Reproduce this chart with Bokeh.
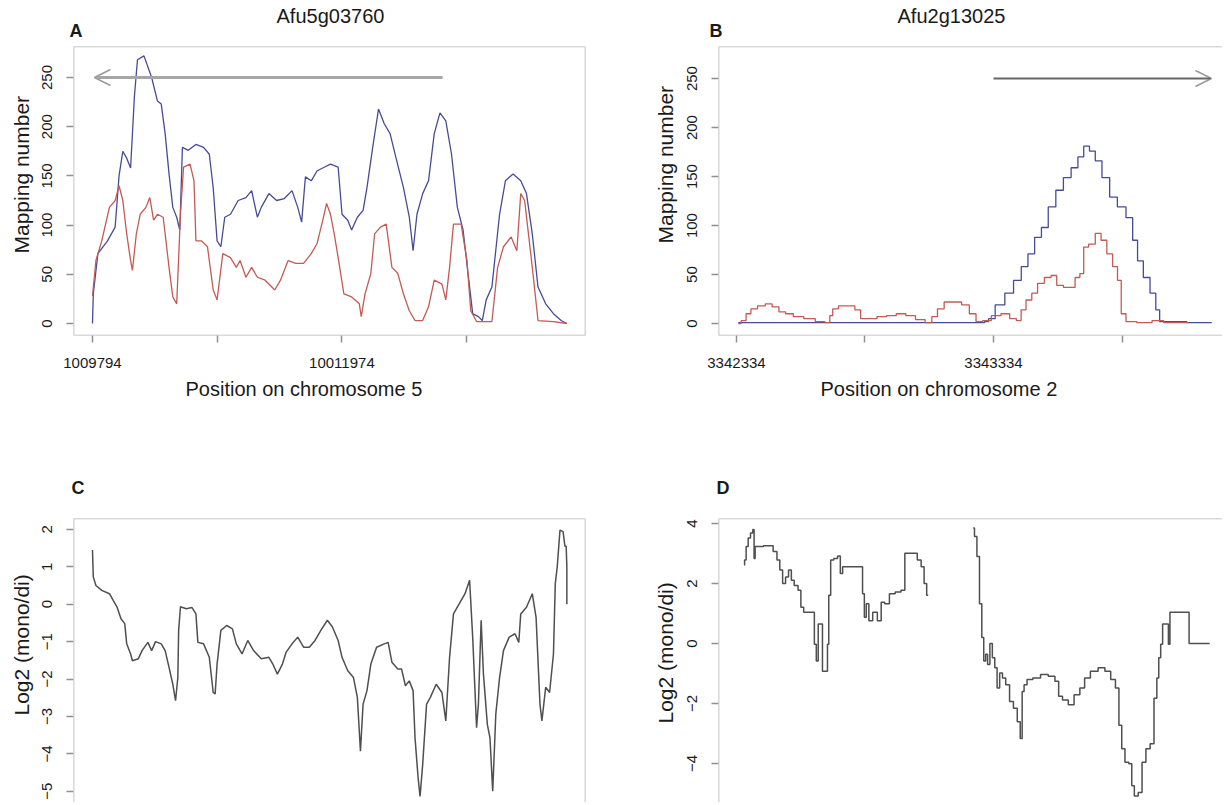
from bokeh.plotting import figure
from bokeh.layouts import column, row
from bokeh.models import Range1d, FixedTicker, Arrow, OpenHead, Span, Title
from bokeh.embed import file_html
from bokeh.resources import INLINE

FONT = "Liberation Sans"
INK = "#1a1a1a"
FRAME = "#b4b4b4"
BLUE = "#464b98"
RED = "#c45a55"
GREY = "#4f4f4f"
NAN = float("nan")

# ---- panel A: Afu5g03760 (positions = bp after the first tick) ----
a_ticks = [0, 1090, 2180, 3270]
a_tick_labels = {0: "1009794", 1090: "", 2180: "10011974", 3270: ""}
a_blue_x = [0, 7, 47, 131, 198, 232, 265, 299, 333, 366, 393, 450, 517, 568, 601,
            635, 669, 702, 736, 763, 786, 837, 904, 971, 1021, 1055, 1089, 1122, 1156,
            1206, 1273, 1341, 1391, 1441, 1475, 1542, 1609, 1677, 1744, 1794, 1828,
            1861, 1912, 1962, 2029, 2080, 2147, 2181, 2231, 2265, 2315, 2365, 2399,
            2449, 2500, 2550, 2601, 2651, 2718, 2769, 2802, 2836, 2886, 2937, 2987,
            3037, 3088, 3138, 3189, 3239, 3289, 3323, 3373, 3407, 3441, 3491, 3558,
            3609, 3676, 3743, 3793, 3844, 3894, 3961, 4029, 4096, 4146]
a_blue_y = [0, 30, 71, 84, 98, 150, 175, 168, 158, 230, 268, 272, 250, 226, 223,
            193, 152, 118, 108, 95, 179, 176, 182, 179, 172, 138, 84, 78, 108,
            111, 125, 128, 135, 108, 118, 132, 125, 127, 135, 118, 103,
            149, 145, 155, 159, 162, 159, 111, 105, 95, 108, 115, 138,
            179, 218, 203, 193, 169, 138, 108, 74, 111, 132, 145, 193,
            214, 206, 172, 118, 95, 44, 10, 7, 3, 24, 37, 111,
            145, 152, 145, 132, 91, 37, 20, 10, 3, 0]
a_red_x = [0, 30, 81, 148, 198, 232, 265, 299, 333, 349, 383, 417, 467, 501, 534,
           568, 618, 669, 702, 736, 769, 796, 853, 887, 904, 954, 1005, 1055, 1089,
           1139, 1206, 1257, 1290, 1341, 1391, 1441, 1509, 1593, 1643, 1710, 1777,
           1845, 1912, 1962, 2013, 2046, 2080, 2113, 2147, 2197, 2265, 2332, 2349,
           2382, 2433, 2466, 2517, 2567, 2617, 2668, 2718, 2769, 2819, 2886, 2937,
           2987, 3054, 3088, 3121, 3155, 3222, 3273, 3306, 3357, 3491, 3541, 3592,
           3659, 3709, 3743, 3777, 3844, 3894, 4029, 4146]
a_red_y = [28, 64, 84, 118, 125, 140, 125, 91, 64, 54, 91, 111, 118, 128, 105,
           111, 108, 57, 27, 20, 111, 159, 162, 145, 84, 84, 78, 34, 24,
           71, 67, 57, 64, 47, 57, 47, 44, 34, 44, 64, 61,
           61, 71, 81, 105, 122, 111, 91, 67, 30, 27, 20, 7,
           30, 51, 91, 98, 101, 57, 51, 30, 13, 3, 3, 17,
           44, 40, 24, 57, 101, 101, 64, 13, 2, 2, 57, 78,
           88, 74, 132, 125, 57, 3, 2, 0]
a_gene = [3060, 17]          # arrow drawn from, to (bp)
gene_level = 250

# ---- panel B: Afu2g13025 ----
b_ticks = [0, 500, 1000, 1500]
b_tick_labels = {0: "3342334", 500: "", 1000: "3343334", 1500: ""}
b_blue_x = [7, 958, 973, 988, 1025, 1063, 1093, 1123, 1145, 1175, 1198, 1228, 1257,
            1287, 1317, 1340, 1362, 1385, 1407, 1437, 1467, 1497, 1534, 1549, 1572,
            1594, 1624, 1639, 1654, 1849]
b_blue_y = [1, 1, 2, 5, 19, 31, 44, 58, 71, 88, 98, 119, 136,
            149, 159, 170, 181, 176, 166, 149, 129, 119, 108, 85, 64,
            47, 31, 14, 2, 1]
b_red_x = [7, 30, 45, 67, 97, 127, 150, 180, 202, 240, 284, 329, 359, 367, 382,
           412, 449, 472, 494, 524, 569, 599, 644, 674, 719, 749, 771, 793, 823,
           861, 891, 921, 943, 973, 1010, 1048, 1078, 1100, 1115, 1138, 1160, 1183,
           1213, 1235, 1257, 1287, 1310, 1325, 1347, 1355, 1385, 1407, 1430, 1452,
           1475, 1490, 1504, 1527, 1587, 1647, 1677, 1759]
b_red_y = [0, 3, 10, 15, 18, 20, 17, 12, 10, 7, 5, 2, 1, 8, 15,
           18, 18, 14, 5, 5, 7, 8, 10, 8, 4, 1, 7, 15, 22,
           22, 19, 10, 2, 3, 8, 10, 5, 3, 14, 24, 31, 41,
           47, 49, 39, 37, 37, 47, 51, 78, 81, 92, 85, 71,
           58, 44, 10, 2, 1, 3, 1, 1]
b_gene = [1000, 1848]

# ---- panel C: log2(mono/di) along Afu5g03760 ----
c_ticks = [2, 1, 0, -1, -2, -3, -4, -5]
c_x = [0, 7, 30, 81, 148, 181, 215, 249, 282, 299, 333, 349, 400, 433, 484, 517,
       551, 601, 635, 669, 702, 726, 746, 753, 769, 820, 870, 904, 921, 971, 1021,
       1055, 1072, 1089, 1122, 1173, 1223, 1257, 1307, 1357, 1408, 1475, 1542, 1576,
       1616, 1660, 1693, 1744, 1794, 1845, 1895, 1945, 1996, 2053, 2097, 2147, 2181,
       2231, 2281, 2315, 2342, 2365, 2399, 2433, 2483, 2550, 2584, 2617, 2668, 2701,
       2735, 2769, 2802, 2819, 2846, 2863, 2886, 2920, 2953, 3004, 3054, 3088, 3121,
       3155, 3205, 3256, 3296, 3323, 3357, 3373, 3397, 3417, 3451, 3474, 3498, 3525,
       3558, 3592, 3642, 3693, 3726, 3743, 3793, 3844, 3877, 3911, 3928, 3961, 3995,
       4029, 4045, 4062, 4086, 4113, 4129, 4140, 4146, 4146]
c_y = [1.45, 0.73, 0.5, 0.37, 0.28, 0.1, -0.08, -0.39, -0.52, -1.06, -1.33, -1.51,
       -1.46, -1.24, -1.02, -1.24, -1.0, -1.06, -1.24, -1.69, -2.14, -2.58, -1.96,
       -0.7, -0.07, -0.12, -0.09, -0.26, -1.02, -1.06, -1.42, -2.36, -2.4, -1.6,
       -0.7, -0.57, -0.66, -1.06, -1.33, -0.97, -1.24, -1.46, -1.42, -1.6, -1.87,
       -1.6, -1.28, -1.06, -0.88, -1.15, -1.15, -0.97, -0.7, -0.43, -0.61, -0.97,
       -1.42, -1.78, -1.96, -2.49, -3.93, -2.67, -2.31, -1.6, -1.15, -1.06, -1.02,
       -1.55, -1.73, -1.73, -2.18, -2.05, -2.31, -3.57, -4.64, -5.14, -4.28, -2.67,
       -2.49, -2.14, -2.36, -3.12, -1.42, -0.26, 0.01, 0.28, 0.64, -0.88, -3.3,
       -2.67, -0.43, -1.87, -3.21, -3.57, -5.0, -2.94, -1.96, -1.24, -0.88, -0.79,
       -1.02, -0.26, -0.08, 0.28, -0.35, -2.67, -3.12, -2.22, -2.36, -1.33, 0.55,
       1.0, 1.98, 1.94, 1.55, 1.55, 1.0, 0.0]

# ---- panel D: log2(mono/di) along Afu2g13025 (gap where undefined) ----
d_ticks = [4, 2, 0, -2, -4]
d_x = [30, 33, 42, 49, 60, 67, 70, 75, 135, 150, 165, 172, 187, 195, 210, 217, 232,
       247, 254, 269, 299, 307, 314, 322, 332, 337, 352, 356, 362, 371, 386, 401,
       407, 419, 487, 494, 501, 509, 521, 539, 557, 569, 584, 606, 629, 651, 659,
       696, 711, 726, 734, 746, NAN,
       921, 931, 940, 951, 958, 966, 973, 981, 991, 1000, 1010, 1018, 1030, 1040,
       1055, 1070, 1085, 1100, 1108, 1115, 1123, 1138, 1168, 1198, 1228, 1250, 1257,
       1280, 1302, 1325, 1347, 1362, 1392, 1422, 1445, 1467, 1482, 1494, 1504, 1519,
       1534, 1542, 1554, 1572, 1584, 1602, 1617, 1632, 1639, 1647, 1654, 1662, 1677,
       1684, 1689, 1759, 1763, 1841]
d_y = [2.62, 2.79, 3.24, 3.52, 3.69, 3.8, 2.84, 3.24, 3.26, 3.07, 2.79, 2.45, 2.0,
       2.22, 2.45, 2.11, 1.94, 1.78, 1.21, 1.04, 1.04, -0.02, -0.58, 0.65, 0.65,
       -0.92, -0.92, -0.02, 1.61, 2.79, 2.84, 2.92, 2.34, 2.56, 2.56, 1.66, 0.88,
       1.33, 0.76, 1.04, 0.76, 1.38, 1.33, 1.66, 1.72, 1.78, 3.01, 3.01, 2.79, 2.56,
       2.0, 1.61, NAN,
       3.85, 3.57, 2.9, 1.33, 0.2, -0.58, -0.36, -0.7, 0.0, -0.47, -0.81, -1.48,
       -0.98, -1.15, -1.37, -1.93, -2.16, -2.61, -3.17, -1.6, -1.37, -1.2, -1.15,
       -1.03, -1.09, -1.26, -1.76, -1.88, -2.04, -1.71, -1.48, -1.15, -0.92, -0.81,
       -0.92, -1.2, -1.48, -2.72, -3.51, -3.96, -4.01, -4.74, -5.08, -4.97, -3.96,
       -3.51, -3.34, -1.82, -1.15, -0.47, -0.02, 0.65, 0.65, -0.02, 1.04, 1.04, 0.0,
       0.0]

mapping_ticks = [0, 50, 100, 150, 200, 250]


def minus(v):
    return str(v).replace("-", "\u2212")


def make_fig(width, height, border, x_rng, y_rng, y_ticks, x_ticks=None, x_labels=None):
    left, right, top, bottom = border
    p = figure(width=width, height=height, title=None,
               x_range=Range1d(*x_rng), y_range=Range1d(*y_rng),
               x_axis_location="below" if x_ticks else None,
               output_backend="svg", toolbar_location=None,
               min_border_left=left, min_border_right=right,
               min_border_top=top, min_border_bottom=bottom,
               background_fill_color="white", border_fill_color="white")
    p.grid.grid_line_color = None
    p.outline_line_color = None
    p.yaxis.ticker = FixedTicker(ticks=y_ticks)
    p.yaxis.major_label_overrides = {t: minus(t) for t in y_ticks}
    p.yaxis.major_label_orientation = "vertical"
    if x_ticks:
        p.xaxis.ticker = FixedTicker(ticks=x_ticks)
        p.xaxis.major_label_overrides = x_labels
    for ax in p.axis:
        ax.axis_line_color = None
        ax.major_tick_line_color = "#8f8f8f"
        ax.major_tick_line_width = 1.5
        ax.major_tick_in = 0
        ax.major_tick_out = 7
        ax.minor_tick_line_color = None
        ax.major_label_text_font = FONT
        ax.major_label_text_font_size = "15px"
        ax.major_label_text_color = INK
    p.yaxis.major_label_standoff = 14
    if x_ticks:
        p.xaxis.major_label_standoff = 15
    return p


def frame_sides(p, sides):
    locs = {"left": (p.x_range.start, "height"), "right": (p.x_range.end, "height"),
            "bottom": (p.y_range.start, "width"), "top": (p.y_range.end, "width")}
    for s in sides:
        loc, dim = locs[s]
        p.add_layout(Span(location=loc, dimension=dim, line_color=FRAME, line_width=1.6))


def title(p, side, text, size, offset, standoff, bold=False):
    p.add_layout(Title(text=text, align="left", offset=offset, standoff=standoff,
                       text_font=FONT, text_font_size=size, text_color=INK,
                       text_font_style="bold" if bold else "normal"), side)


# panel A
pa = make_fig(616, 452, (73, 31, 46, 117), (-166, 4309), (-12.2, 281.5),
              mapping_ticks, a_ticks, a_tick_labels)
frame_sides(pa, ["left", "right", "top", "bottom"])
pa.line(a_blue_x, a_blue_y, line_color=BLUE, line_width=1.3)
pa.line(a_red_x, a_red_y, line_color=RED, line_width=1.3)
pa.add_layout(Arrow(end=OpenHead(size=16, line_color="#9a9a9a", line_width=1.5),
                    x_start=a_gene[0], y_start=gene_level, x_end=a_gene[1], y_end=gene_level,
                    line_color="#a6a6a6", line_width=3))
title(pa, "above", "A", "18px", -4, 11, bold=True)
title(pa, "above", "Afu5g03760", "20px", 203, -27)
title(pa, "left", "Mapping number", "21px", 82, 14)
title(pa, "below", "Position on chromosome 5", "20px", 112, 11)

# panel B (stepped coverage)
pb = make_fig(606, 452, (102, 0, 46, 117), (-70, 1891), (-12.2, 282.7),
              mapping_ticks, b_ticks, b_tick_labels)
frame_sides(pb, ["left", "top", "bottom"])
pb.step(b_blue_x, b_blue_y, mode="center", line_color=BLUE, line_width=1.3)
pb.step(b_red_x, b_red_y, mode="center", line_color=RED, line_width=1.3)
pb.add_layout(Arrow(end=OpenHead(size=16, line_color="#9a9a9a", line_width=1.5),
                    x_start=b_gene[0], y_start=gene_level, x_end=b_gene[1], y_end=gene_level,
                    line_color="#666666", line_width=2))
title(pb, "above", "B", "18px", -9, 11, bold=True)
title(pb, "above", "Afu2g13025", "20px", 179, -27)
title(pb, "left", "Mapping number", "21px", 92, 16)
title(pb, "below", "Position on chromosome 2", "20px", 102, 11)

# panel C
pc = make_fig(616, 350, (73, 31, 66, 0), (-166, 4309), (-5.30, 2.29), c_ticks)
frame_sides(pc, ["left", "right", "top"])
pc.line(c_x, c_y, line_color=GREY, line_width=1.5)
title(pc, "above", "C", "18px", -2, 41, bold=True)
title(pc, "left", "Log2 (mono/di)", "21px", 87, 14)

# panel D
pd_ = make_fig(606, 350, (102, 0, 66, 0), (-70, 1891), (-5.30, 4.17), d_ticks)
frame_sides(pd_, ["left", "top"])
pd_.step(d_x, d_y, mode="center", line_color=GREY, line_width=1.5)
title(pd_, "above", "D", "18px", -2, 41, bold=True)
title(pd_, "left", "Log2 (mono/di)", "21px", 79, 16)

p = column(row(pa, pb), row(pc, pd_))
open("out.html", "w").write(file_html(p, INLINE))
